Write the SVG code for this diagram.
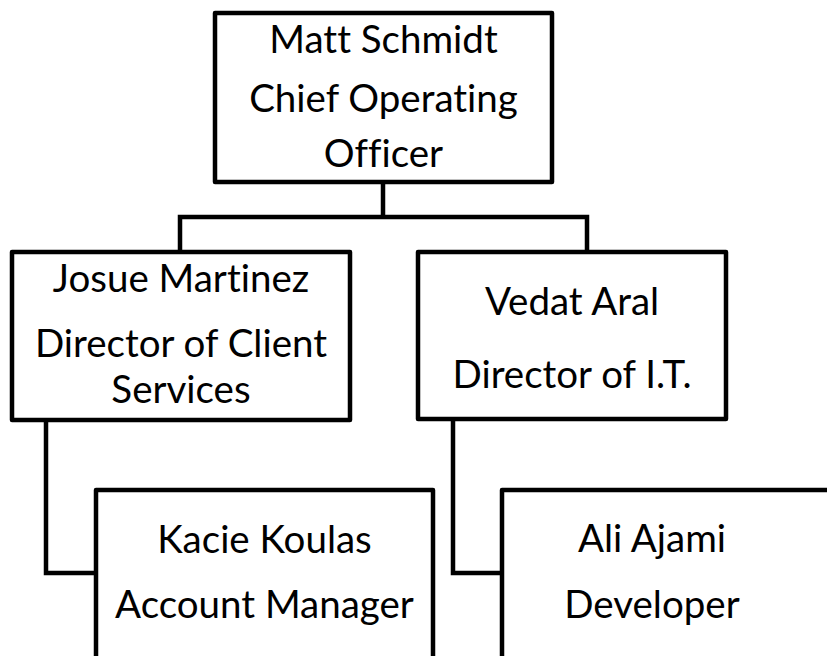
<svg xmlns="http://www.w3.org/2000/svg" width="827" height="656" viewBox="0 0 827 656">
<style>
.box{fill:#fff;stroke:#000;stroke-width:4.5;stroke-linejoin:round}
.conn{fill:none;stroke:#000;stroke-width:4.5;stroke-linejoin:miter}
text{font-family:Lato,"Liberation Sans",sans-serif;font-size:38.5px;fill:#000;text-anchor:middle;font-variant-ligatures:none}
</style>
<rect width="827" height="656" fill="#fff"/>
<g id="connectors">
<path class="conn" d="M383 183V217M180 252V217H587V252"/>
<path class="conn" d="M46 420V573H96"/>
<path class="conn" d="M453 420V573H502"/>
</g>
<g id="matt">
<rect class="box" x="215" y="13" width="337" height="169"/>
<text x="383.5" y="53">Matt Schmidt</text>
<text x="383.5" y="112">Chief Operating</text>
<text x="383.5" y="167">Officer</text>
</g>
<g id="josue">
<rect class="box" x="12" y="252" width="338" height="168"/>
<text x="181" y="292">Josue Martinez</text>
<text x="181" y="357">Director of Client</text>
<text x="181" y="403">Services</text>
</g>
<g id="vedat">
<rect class="box" x="418" y="252" width="308" height="167"/>
<text x="572" y="315">Vedat Aral</text>
<text x="572" y="388">Director of I.T.</text>
</g>
<g id="kacie">
<rect class="box" x="96" y="490" width="337" height="220"/>
<text x="264.5" y="553">Kacie Koulas</text>
<text x="264.5" y="618">Account Manager</text>
</g>
<g id="ali">
<rect class="box" x="502" y="490" width="400" height="220"/>
<text x="652" y="552">Ali Ajami</text>
<text x="652" y="618">Developer</text>
</g>
</svg>
